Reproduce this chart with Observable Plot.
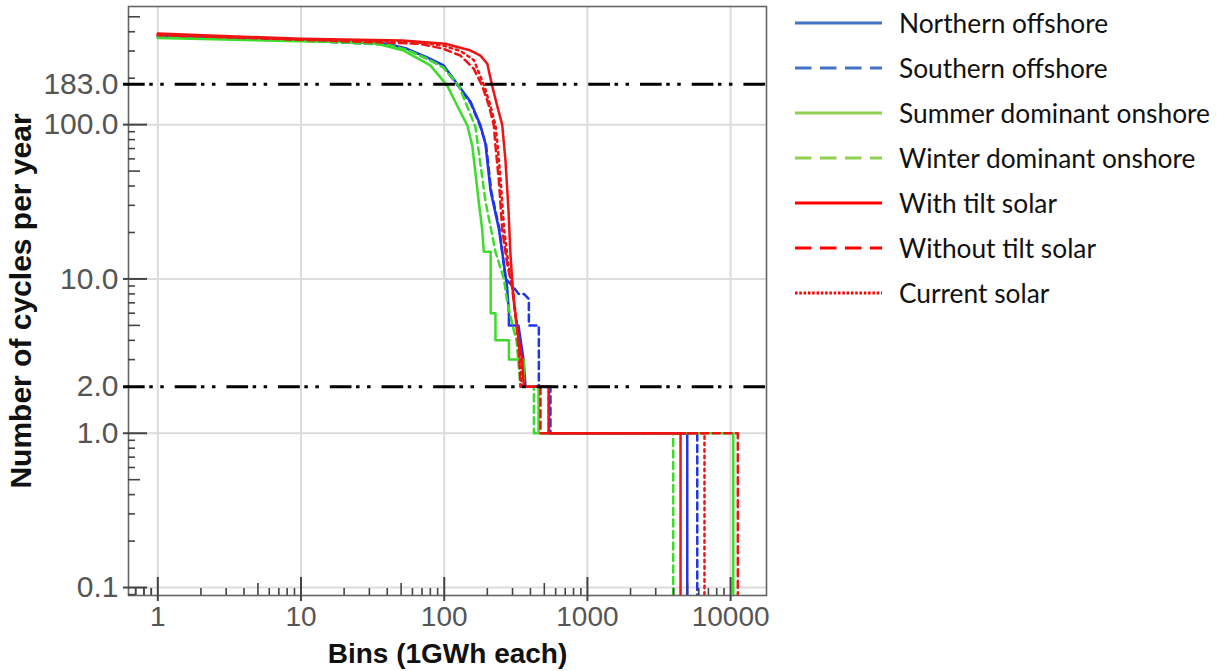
<!DOCTYPE html>
<html><head><meta charset="utf-8">
<script src="https://cdn.jsdelivr.net/npm/d3@7"></script>
<script src="https://cdn.jsdelivr.net/npm/@observablehq/plot@0.6"></script>
<style>
body{margin:0;background:#fff;}
#wrap{position:relative;width:1217px;height:671px;overflow:hidden;}
#chart{position:absolute;left:0;top:0;}
#legend{position:absolute;left:795px;top:0;font-family:Lato,"Open Sans",sans-serif;font-size:26.3px;color:#111;}
.row{height:45px;display:flex;align-items:center;white-space:nowrap;}
.row svg{margin-right:17px;flex:none;}
</style></head><body><div id="wrap"><div id="chart"></div><div id="legend"></div></div>
<script>
// ---- data: [bins (GWh), cycles per year]; 0 = drops out of the log range
const northernOffshore = [[1,378],[10,353],[40,334],[55,310],[76,273],[99,242],[126,179],[153,140],[179,99],[194,75],[211,37],[241,21],[261,12.6],[275,8.8],[283,6],[283,5],[330,5],[358,3],[370,2],[538,2],[538,1],[4980,1],[4980,0]];
const southernOffshore = [[1,372],[10,350],[40,331],[55,306],[76,268],[99,236],[126,177],[153,138],[179,97],[196,74],[213,37],[243,21],[268,10],[300,9],[331,8],[360,8],[390,7.4],[390,5],[458,5],[458,2],[552,2],[552,1],[5850,1],[5850,0]];
const summerOnshore = [[1,365],[10,347],[31,342],[52,302],[80,242],[105,179],[123,133],[145,99],[157,73],[174,32],[184,21],[189,15],[211,15],[211,6],[228,6],[228,4],[283,4],[283,3],[360,3],[360,2],[456,2],[456,1],[10440,1],[10440,0]];
const winterOnshore = [[1,370],[10,350],[40,330],[55,305],[76,268],[99,234],[126,180],[165,97],[194,32],[228,15],[261,10],[275,7.2],[300,5],[320,4],[341,2],[423,2],[423,1],[3975,1],[3975,0]];
const withTiltSolar = [[1,389],[10,360],[51,351],[102,334],[153,302],[179,280],[200,248],[216,179],[234,133],[254,100],[268,58],[281,28],[290,14.6],[298,10],[306,7.2],[332,4],[350,3],[360,2],[538,2],[538,1],[4470,1],[4470,0]];
const withoutTiltSolar = [[1,380],[10,355],[68,334],[99,310],[130,280],[161,230],[184,179],[205,133],[222,99],[228,73],[241,43],[254,21],[275,12.6],[298,8.8],[320,5],[335,3],[341,2],[470,2],[470,1],[11230,1],[11230,0]];
const currentSolar = [[1,384],[10,357],[60,345],[99,325],[130,300],[161,262],[190,179],[210,133],[228,99],[236,73],[248,43],[262,21],[280,12.6],[300,8.8],[322,5],[340,3],[348,2],[538,2],[538,1],[6570,1],[6570,0]];

const seriesNames = ["Northern offshore","Southern offshore","Summer dominant onshore","Winter dominant onshore","With tilt solar","Without tilt solar","Current solar"];
const seriesData = [northernOffshore, southernOffshore, summerOnshore, winterOnshore, withTiltSolar, withoutTiltSolar, currentSolar];
const xTickLabels = [1, 10, 100, 1000, 10000];
const yTickLabels = [0.1, 1, 2, 10, 100, 183];
const yGridValues = [0.1, 1, 10, 100];
const thresholdLevels = [183, 2];
const xLabel = "Bins (1GWh each)";
const yLabel = "Number of cycles per year";

// ---- styles
const plotColors = ["#1f36ee","#1f36ee","#3ddc2c","#3ddc2c","#ee1414","#ee1414","#ee1414"];
const legendColors = ["#4472c4","#4472c4","#92d050","#92d050","#ff0000","#ff0000","#ff0000"];
const plotDash = [null,"7,4.5",null,"7,4.5",null,"7,4.5","2.5,4"];
const legendDash = [null,"16.5,8.5",null,"16.5,8.5",null,"16.5,8.5","2.5,1.8"];

const W = 780, H = 671, mL = 128, mR = 14, mT = 6, mB = 76;
const pW = W - mL - mR, pH = H - mT - mB;
const yFloor = 1e-3;
const decades = [0.1, 1, 10, 100, 1000];
const xMinor = [0.1, ...decades].flatMap(d => [2,3,4,6,7,8,9].map(k => +(k*d).toPrecision(3))).filter(v => v > 0.624 && v < 17810);
const xMid = [0.1, ...decades].map(d => +(5*d).toPrecision(3)).filter(v => v > 0.624 && v < 17810);
const yMinor = [0.01, ...decades].flatMap(d => [2,3,4,6,7,8,9].map(k => +(k*d).toPrecision(3))).filter(v => v > 0.0888 && v < 583 && v !== 2);
const yMid = [0.01, ...decades].map(d => +(5*d).toPrecision(3)).filter(v => v > 0.0888 && v < 583);

const tickColor = "#444";
const lineMarks = seriesData.map((data, i) => Plot.line(data, {
  x: d => d[0], y: d => Math.max(d[1], yFloor),
  stroke: plotColors[i], strokeWidth: 2.5, strokeDasharray: plotDash[i] ?? undefined,
  clip: true, curve: "linear"
}));

const chart = Plot.plot({
  width: W, height: H,
  marginLeft: mL, marginRight: mR, marginTop: mT, marginBottom: mB,
  style: {fontFamily: "'Liberation Sans', Arial, sans-serif", fontSize: "30px", background: "transparent", overflow: "visible"},
  x: {type: "log", domain: [0.624, 17810]},
  y: {type: "log", domain: [0.0888, 583]},
  marks: [
    Plot.gridX({ticks: xTickLabels, stroke: "#dcdcdc", strokeOpacity: 1, strokeWidth: 2}),
    Plot.gridY({ticks: yGridValues, stroke: "#dcdcdc", strokeOpacity: 1, strokeWidth: 2}),
    Plot.frame({stroke: "#666", strokeWidth: 1.6}),
    ...lineMarks,
    Plot.ruleY(thresholdLevels, {y: d => d, stroke: "#000", strokeWidth: 3, insetLeft: -5, strokeDasharray: "21.7,4.55,3.5,7.5,3.5,10.95"}),
    Plot.tickY(yGridValues, {y: d => d, stroke: tickColor, strokeWidth: 2, insetLeft: -5, insetRight: pW - 19}),
    Plot.tickY(yMinor, {y: d => d, stroke: tickColor, strokeWidth: 1.6, insetRight: pW - 7}),
    Plot.tickY(yMid, {y: d => d, stroke: tickColor, strokeWidth: 1.6, insetRight: pW - 12}),
    Plot.tickX(xTickLabels, {x: d => d, stroke: tickColor, strokeWidth: 2, insetTop: pH - 18, insetBottom: -6}),
    Plot.tickX(xMinor, {x: d => d, stroke: tickColor, strokeWidth: 1.6, insetTop: pH - 7}),
    Plot.tickX(xMid, {x: d => d, stroke: tickColor, strokeWidth: 1.6, insetTop: pH - 12}),
    Plot.axisY({ticks: yTickLabels, anchor: "left", tickSize: 0, tickPadding: 10, tickFormat: d3.format(".1f"), color: "#555", label: null, fontSize: 30}),
    Plot.axisX({ticks: xTickLabels, anchor: "bottom", tickSize: 0, tickPadding: 11, tickFormat: d => String(d), color: "#555", label: null, fontSize: 28}),
    Plot.text([yLabel], {text: d => d, frameAnchor: "left", textAnchor: "middle", lineAnchor: "middle", rotate: -90, dx: -107, fontWeight: "bold", fontSize: 30, fill: "#111"}),
    Plot.text([xLabel], {text: d => d, frameAnchor: "bottom", textAnchor: "middle", lineAnchor: "middle", dy: 59, fontWeight: "bold", fontSize: 28, fill: "#111"})
  ]
});
document.getElementById("chart").appendChild(chart);

// ---- legend
const legend = document.getElementById("legend");
seriesNames.forEach((name, i) => {
  const row = document.createElement("div");
  row.className = "row";
  const sw = d3.create("svg").attr("width", 87).attr("height", 10);
  sw.append("line").attr("x1", 0).attr("x2", 87).attr("y1", 5).attr("y2", 5)
    .attr("stroke", legendColors[i]).attr("stroke-width", 3)
    .attr("stroke-dasharray", legendDash[i]);
  row.appendChild(sw.node());
  const t = document.createElement("span");
  t.textContent = name;
  row.appendChild(t);
  legend.appendChild(row);
});
</script></body></html>
